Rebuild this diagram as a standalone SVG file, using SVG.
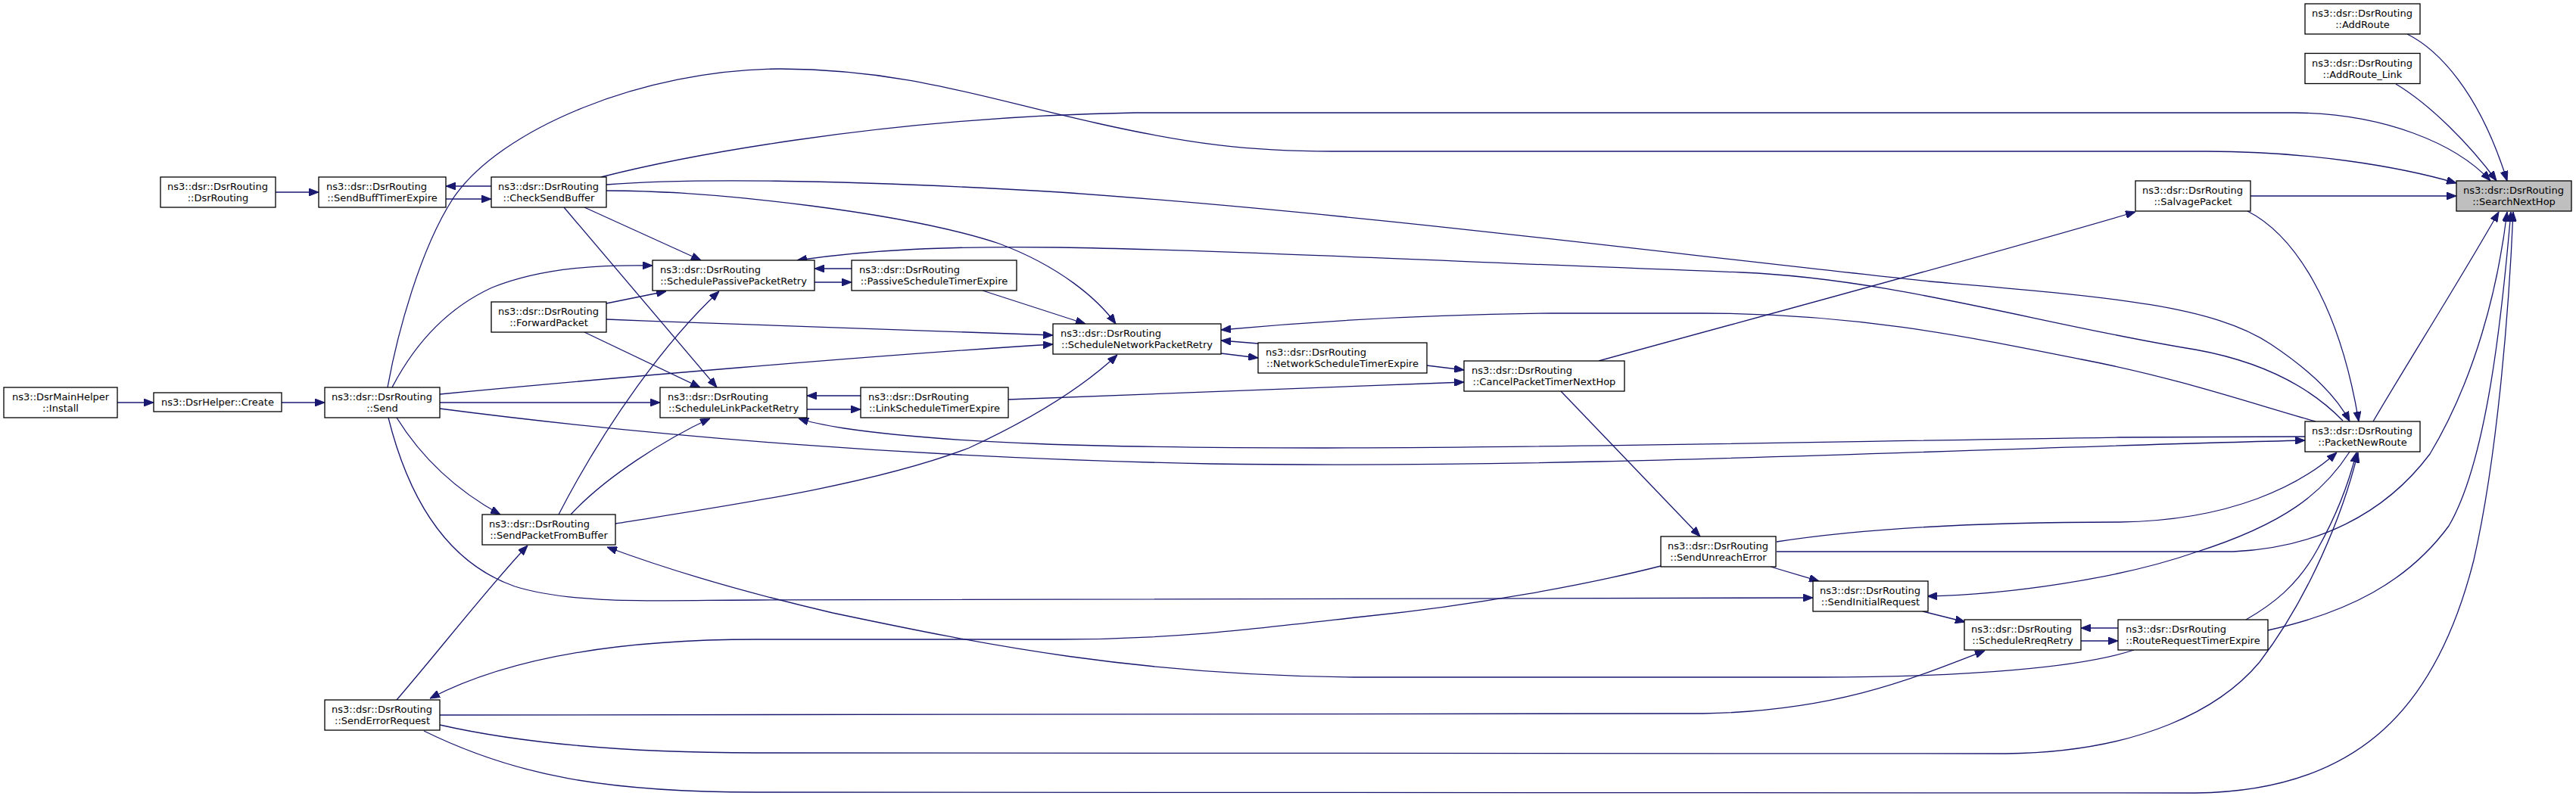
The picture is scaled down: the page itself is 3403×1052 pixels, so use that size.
<svg xmlns="http://www.w3.org/2000/svg" width="3403" height="1052" viewBox="0 0 3403 1052">
<style>
.n rect{fill:#fff;stroke:#000;stroke-width:1.3}
.n.root rect{fill:#bfbfbf}
.n text{font-family:"DejaVu Sans","Liberation Sans",sans-serif;font-size:13px;fill:#000}
.c path{fill:none;stroke:#191970;stroke-width:1.3;marker-end:url(#ah)}
</style>
<defs>
<marker id="ah" viewBox="0 0 13 10" refX="13" refY="5" markerWidth="13" markerHeight="10" markerUnits="userSpaceOnUse" orient="auto">
<path d="M0,0 L13,5 L0,10 z" fill="#191970" stroke="#191970" stroke-width="1"/>
</marker>
</defs>
<rect width="3403" height="1052" fill="#fff"/>
<g class="c">
<path d="M155,532 L203,532"/>
<path d="M372,532 L429,532"/>
<path d="M364,254 L421,254"/>
<path d="M649,246 L589,246"/>
<path d="M589,263 L649,263"/>
<path d="M518,512 C545,460 585,410 650,380 C720,352 800,350 862,351"/>
<path d="M581,521 C800,500 1150,470 1391,455"/>
<path d="M581,532 L872,532"/>
<path d="M581,540 C850,575 1200,605 1600,613 C2100,620 2600,592 3045,582"/>
<path d="M513,552 C535,640 580,740 680,775 C760,800 880,793 1000,793 L2395,790"/>
<path d="M524,552 C560,610 610,652 661,680"/>
<path d="M794,234 C880,212 1150,155 1500,149 L3031,149 C3150,150 3245,190 3290,239"/>
<path d="M512,512 C525,440 555,330 598,263 C660,170 850,92 1030,91 C1200,92 1300,130 1450,163 C1570,190 1650,200 1760,200 L2915,200 C3050,200 3170,220 3245,242"/>
<path d="M772,274 L926,344"/>
<path d="M745,274 L947,512"/>
<path d="M801,252 C950,252 1200,282 1320,322 C1400,352 1450,395 1474,428"/>
<path d="M801,244 C900,236 1100,236 1400,254 C1800,282 2200,335 2550,372 C2780,392 2920,402 3000,455 C3060,495 3090,530 3104,557"/>
<path d="M738,680 C800,560 880,450 950,385"/>
<path d="M754,680 C800,630 880,580 938,553"/>
<path d="M813,692 C950,670 1150,642 1280,592 C1360,555 1430,512 1476,469"/>
<path d="M524,925 C580,860 650,770 697,721"/>
<path d="M2819,859 C2750,882 2600,895 2400,895 L1800,895 C1500,893 1300,852 1100,810 C980,782 880,752 802,723"/>
<path d="M581,945 L2250,943 C2420,940 2520,900 2622,860"/>
<path d="M581,958 C700,985 850,995 1000,995 L2650,996 C2830,994 2935,935 2985,875 C3050,790 3095,680 3115,598"/>
<path d="M560,966 C680,1025 800,1047 1000,1047 L2900,1048 C3120,1046 3220,930 3268,740 C3300,600 3315,400 3320,280"/>
<path d="M2194,748 C2100,772 1950,800 1800,815 C1650,832 1550,845 1400,845 L1000,845 C800,845 660,875 568,923"/>
<path d="M2339,749 L2403,768"/>
<path d="M2347,716 C2450,700 2600,690 2800,690 C2950,688 3040,640 3087,598"/>
<path d="M2347,729 L2950,729 C3060,724 3150,680 3210,600 C3270,500 3300,380 3312,280"/>
<path d="M2996,833 C3100,810 3180,770 3235,695 C3285,610 3305,420 3317,280"/>
<path d="M2967,819 C3000,800 3035,775 3062,725 C3090,675 3105,630 3113,598"/>
<path d="M3104,597 C3070,650 3020,692 2900,730 C2800,765 2650,786 2546,788"/>
<path d="M2540,808 L2596,822"/>
<path d="M2749,847 L2798,847"/>
<path d="M2798,830 L2749,830"/>
<path d="M2062,517 L2246,709"/>
<path d="M2112,477 C2300,425 2600,345 2821,280"/>
<path d="M1885,483 L1934,489"/>
<path d="M1332,528 C1550,520 1750,512 1934,505"/>
<path d="M1613,467 L1662,473"/>
<path d="M1662,454 L1613,450"/>
<path d="M3059,557 C2980,535 2880,500 2750,475 C2600,445 2450,414 2250,414 L2050,414 C1850,416 1700,428 1613,436"/>
<path d="M3095,556 C3060,520 3000,480 2900,462 C2700,430 2500,368 2300,360 C1900,345 1600,330 1400,327 C1250,325 1150,330 1053,344"/>
<path d="M3045,577 L2800,578 C2400,584 2050,592 1750,592 C1450,592 1250,586 1115,566 C1090,562 1070,558 1055,553"/>
<path d="M3135,557 C3180,480 3250,370 3301,280"/>
<path d="M2969,279 C3030,310 3090,400 3116,557"/>
<path d="M2973,259 L3245,259"/>
<path d="M3180,45 C3220,65 3275,120 3312,239"/>
<path d="M3165,111 C3210,138 3262,190 3298,239"/>
<path d="M1298,384 L1434,428"/>
<path d="M1076,373 L1125,373"/>
<path d="M1125,355 L1076,355"/>
<path d="M1066,541 L1137,541"/>
<path d="M1137,523 L1066,523"/>
<path d="M801,401 L880,385"/>
<path d="M772,439 L925,512"/>
<path d="M801,422 C1000,430 1200,438 1391,443"/>
</g>
<g id="SearchNextHop" class="n root"><rect x="3245" y="239" width="152" height="40"/><text x="3254" y="256">ns3::dsr::DsrRouting</text><text x="3321" y="271" text-anchor="middle">::SearchNextHop</text></g>
<g id="AddRoute" class="n"><rect x="3045" y="5" width="152" height="40"/><text x="3054" y="22">ns3::dsr::DsrRouting</text><text x="3121" y="37" text-anchor="middle">::AddRoute</text></g>
<g id="AddRoute_Link" class="n"><rect x="3045" y="70.5" width="152" height="40"/><text x="3054" y="87.5">ns3::dsr::DsrRouting</text><text x="3121" y="102.5" text-anchor="middle">::AddRoute_Link</text></g>
<g id="SalvagePacket" class="n"><rect x="2821" y="239" width="152" height="40"/><text x="2830" y="256">ns3::dsr::DsrRouting</text><text x="2897" y="271" text-anchor="middle">::SalvagePacket</text></g>
<g id="PacketNewRoute" class="n"><rect x="3045" y="557" width="152" height="40"/><text x="3054" y="574">ns3::dsr::DsrRouting</text><text x="3121" y="589" text-anchor="middle">::PacketNewRoute</text></g>
<g id="RouteRequestTimerExpire" class="n"><rect x="2798" y="819" width="198" height="40"/><text x="2808" y="836">ns3::dsr::DsrRouting</text><text x="2897" y="851" text-anchor="middle">::RouteRequestTimerExpire</text></g>
<g id="ScheduleRreqRetry" class="n"><rect x="2595" y="819" width="154" height="40"/><text x="2604" y="836">ns3::dsr::DsrRouting</text><text x="2672" y="851" text-anchor="middle">::ScheduleRreqRetry</text></g>
<g id="SendInitialRequest" class="n"><rect x="2395" y="768" width="152" height="40"/><text x="2404" y="785">ns3::dsr::DsrRouting</text><text x="2471" y="800" text-anchor="middle">::SendInitialRequest</text></g>
<g id="SendUnreachError" class="n"><rect x="2194" y="709" width="152" height="40"/><text x="2203" y="726">ns3::dsr::DsrRouting</text><text x="2270" y="741" text-anchor="middle">::SendUnreachError</text></g>
<g id="CancelPacketTimerNextHop" class="n"><rect x="1934" y="477" width="212" height="40"/><text x="1944" y="494">ns3::dsr::DsrRouting</text><text x="2040" y="509" text-anchor="middle">::CancelPacketTimerNextHop</text></g>
<g id="NetworkScheduleTimerExpire" class="n"><rect x="1662" y="453" width="223" height="40"/><text x="1672" y="470">ns3::dsr::DsrRouting</text><text x="1773.5" y="485" text-anchor="middle">::NetworkScheduleTimerExpire</text></g>
<g id="ScheduleNetworkPacketRetry" class="n"><rect x="1391" y="428" width="222" height="40"/><text x="1401" y="445">ns3::dsr::DsrRouting</text><text x="1502" y="460" text-anchor="middle">::ScheduleNetworkPacketRetry</text></g>
<g id="LinkScheduleTimerExpire" class="n"><rect x="1137" y="512" width="195" height="40"/><text x="1147" y="529">ns3::dsr::DsrRouting</text><text x="1234.5" y="544" text-anchor="middle">::LinkScheduleTimerExpire</text></g>
<g id="PassiveScheduleTimerExpire" class="n"><rect x="1125" y="344" width="218" height="40"/><text x="1135" y="361">ns3::dsr::DsrRouting</text><text x="1234" y="376" text-anchor="middle">::PassiveScheduleTimerExpire</text></g>
<g id="SchedulePassivePacketRetry" class="n"><rect x="862" y="344" width="214" height="40"/><text x="872" y="361">ns3::dsr::DsrRouting</text><text x="969" y="376" text-anchor="middle">::SchedulePassivePacketRetry</text></g>
<g id="ScheduleLinkPacketRetry" class="n"><rect x="872" y="512" width="194" height="40"/><text x="882" y="529">ns3::dsr::DsrRouting</text><text x="969" y="544" text-anchor="middle">::ScheduleLinkPacketRetry</text></g>
<g id="CheckSendBuffer" class="n"><rect x="649" y="234" width="152" height="40"/><text x="658" y="251">ns3::dsr::DsrRouting</text><text x="725" y="266" text-anchor="middle">::CheckSendBuffer</text></g>
<g id="ForwardPacket" class="n"><rect x="649" y="399" width="152" height="40"/><text x="658" y="416">ns3::dsr::DsrRouting</text><text x="725" y="431" text-anchor="middle">::ForwardPacket</text></g>
<g id="SendPacketFromBuffer" class="n"><rect x="637" y="680" width="176" height="40"/><text x="646" y="697">ns3::dsr::DsrRouting</text><text x="725" y="712" text-anchor="middle">::SendPacketFromBuffer</text></g>
<g id="SendBuffTimerExpire" class="n"><rect x="421" y="234" width="168" height="40"/><text x="431" y="251">ns3::dsr::DsrRouting</text><text x="505" y="266" text-anchor="middle">::SendBuffTimerExpire</text></g>
<g id="DsrRouting" class="n"><rect x="212" y="234" width="152" height="40"/><text x="221" y="251">ns3::dsr::DsrRouting</text><text x="288" y="266" text-anchor="middle">::DsrRouting</text></g>
<g id="Send" class="n"><rect x="429" y="512" width="152" height="40"/><text x="438" y="529">ns3::dsr::DsrRouting</text><text x="505" y="544" text-anchor="middle">::Send</text></g>
<g id="SendErrorRequest" class="n"><rect x="429" y="925" width="152" height="40"/><text x="438" y="942">ns3::dsr::DsrRouting</text><text x="505" y="957" text-anchor="middle">::SendErrorRequest</text></g>
<g id="Create" class="n"><rect x="203" y="519" width="169" height="25"/><text x="287.5" y="536" text-anchor="middle">ns3::DsrHelper::Create</text></g>
<g id="Install" class="n"><rect x="5" y="512" width="150" height="40"/><text x="16" y="529">ns3::DsrMainHelper</text><text x="80" y="544" text-anchor="middle">::Install</text></g>
</svg>
